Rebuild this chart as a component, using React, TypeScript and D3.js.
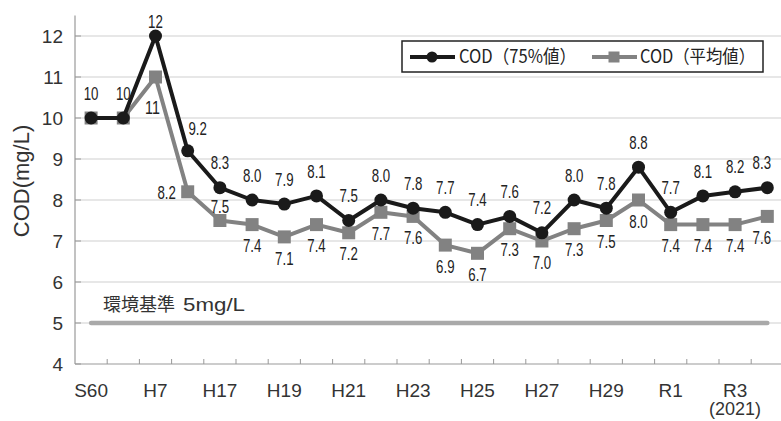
import React, { useEffect, useRef } from 'react';
import * as d3 from 'd3';

// 年度（表示されるのは偶数番目だけ）
const years = ['S60', 'H2', 'H7', 'H12', 'H17', 'H18', 'H19', 'H20', 'H21', 'H22', 'H23',
  'H24', 'H25', 'H26', 'H27', 'H28', 'H29', 'H30', 'R1', 'R2', 'R3', 'R4'];
const cod75 = [10, 10, 12, 9.2, 8.3, 8.0, 7.9, 8.1, 7.5, 8.0, 7.8, 7.7, 7.4, 7.6, 7.2, 8.0, 7.8, 8.8, 7.7, 8.1, 8.2, 8.3];
const codAvg = [10, 10, 11, 8.2, 7.5, 7.4, 7.1, 7.4, 7.2, 7.7, 7.6, 6.9, 6.7, 7.3, 7.0, 7.3, 7.5, 8.0, 7.4, 7.4, 7.4, 7.6];
const standard = 5;
const yTicks = [4, 5, 6, 7, 8, 9, 10, 11, 12];
// label placement: a=above, ar=above right, b=below, bl=below left, l=left, m=just above, n=none
const place75 = ['a', 'a', 'a', 'ar', 'a', 'a', 'a', 'a', 'a', 'a', 'a', 'a', 'a', 'a', 'a', 'a', 'a', 'a', 'a', 'a', 'a', 'a'];
const placeAvg = ['n', 'n', 'bl', 'l', 'm', 'b', 'b', 'b', 'b', 'b', 'b', 'b', 'b', 'b', 'b', 'b', 'b', 'b', 'b', 'b', 'b', 'b'];

const W = 781;
const H = 421;
const NUM = "'Liberation Sans', Arial, sans-serif";
const JP = "'Noto Sans CJK JP', sans-serif";

const offsets: Record<string, [number, number]> = {
  a: [0, -25], ar: [10, -22], b: [0, 21], bl: [-3, 30], l: [-21, 1], m: [0, -14],
};

// narrow look for data labels: squeeze glyphs
const labelWidth = (s: string) => s.split('').reduce((w, c) => w + (c === '.' ? 3.6 : 7.4), 0);

const App: React.FC = () => {
  const svgRef = useRef<SVGSVGElement>(null);

  useEffect(() => {
    if (!svgRef.current) return;
    const svg = d3.select(svgRef.current);
    svg.selectAll('*').remove();

    const left = 75;
    const bottom = 364;
    const band = 32.2;

    const x = d3.scaleBand<number>()
      .domain(d3.range(years.length))
      .range([left, left + band * years.length])
      .padding(0);
    const cx = (i: number) => (x(i) as number) + x.bandwidth() / 2;
    const y = d3.scaleLinear().domain([4, 12.5]).range([bottom, 15.5]);

    // grid
    svg.append('g').selectAll('line')
      .data(yTicks.filter(t => t > 4))
      .enter().append('line')
      .attr('x1', left).attr('x2', W)
      .attr('y1', d => y(d)).attr('y2', d => y(d))
      .attr('stroke', '#cfcfcf').attr('stroke-width', 1);

    // axes
    svg.append('line').attr('x1', left).attr('x2', left).attr('y1', y(12.5)).attr('y2', bottom)
      .attr('stroke', '#999').attr('stroke-width', 1.2);
    svg.append('line').attr('x1', left).attr('x2', W).attr('y1', bottom).attr('y2', bottom)
      .attr('stroke', '#999').attr('stroke-width', 1.2);

    svg.append('g').selectAll('line')
      .data(yTicks)
      .enter().append('line')
      .attr('x1', left).attr('x2', left + 6)
      .attr('y1', d => y(d)).attr('y2', d => y(d))
      .attr('stroke', '#999');

    svg.append('g').selectAll('text')
      .data(yTicks)
      .enter().append('text')
      .attr('x', 63).attr('y', d => y(d)).attr('dy', '0.35em')
      .attr('text-anchor', 'end')
      .style('font-family', NUM).style('font-size', '19px').style('fill', '#333')
      .text(d => d);

    svg.append('g').selectAll('line')
      .data(d3.range(1, years.length + 1))
      .enter().append('line')
      .attr('x1', d => left + d * x.bandwidth()).attr('x2', d => left + d * x.bandwidth())
      .attr('y1', bottom).attr('y2', bottom - 5)
      .attr('stroke', '#999');

    svg.append('g').selectAll('text')
      .data(d3.range(0, years.length, 2))
      .enter().append('text')
      .attr('x', d => cx(d)).attr('y', 397)
      .attr('text-anchor', 'middle')
      .style('font-family', NUM).style('font-size', '19px').style('fill', '#333')
      .text(d => years[d]);

    svg.append('text')
      .attr('x', cx(20)).attr('y', 415)
      .attr('text-anchor', 'middle')
      .style('font-family', NUM).style('font-size', '18px').style('fill', '#333')
      .text('(2021)');

    svg.append('text')
      .attr('transform', `translate(21,181) rotate(-90)`)
      .attr('dy', '0.35em')
      .attr('text-anchor', 'middle')
      .style('font-family', NUM).style('font-size', '22px').style('fill', '#333')
      .text('COD(mg/L)');

    // environmental standard
    svg.append('line')
      .attr('x1', cx(0)).attr('x2', cx(years.length - 1))
      .attr('y1', y(standard)).attr('y2', y(standard))
      .attr('stroke', '#a9a9a9').attr('stroke-width', 4.5).attr('stroke-linecap', 'round');
    svg.append('text')
      .attr('x', 103).attr('y', 311)
      .style('font-family', JP).style('font-size', '18px').style('fill', '#333')
      .text('環境基準');
    svg.append('text')
      .attr('x', 183).attr('y', 311)
      .attr('textLength', 62).attr('lengthAdjust', 'spacingAndGlyphs')
      .style('font-family', NUM).style('font-size', '18px').style('fill', '#333')
      .text('5mg/L');

    const line = d3.line<number>().x((_, i) => cx(i)).y(d => y(d));

    // average series
    svg.append('path').datum(codAvg)
      .attr('d', line).attr('fill', 'none')
      .attr('stroke', '#828282').attr('stroke-width', 4).attr('stroke-linejoin', 'round');
    svg.append('g').selectAll('rect')
      .data(codAvg)
      .enter().append('rect')
      .attr('x', (_, i) => cx(i) - 6.5).attr('y', d => y(d) - 6.5)
      .attr('width', 13).attr('height', 13)
      .attr('fill', '#828282');

    // 75% series
    svg.append('path').datum(cod75)
      .attr('d', line).attr('fill', 'none')
      .attr('stroke', '#1a1a1a').attr('stroke-width', 4).attr('stroke-linejoin', 'round');
    svg.append('g').selectAll('circle')
      .data(cod75)
      .enter().append('circle')
      .attr('cx', (_, i) => cx(i)).attr('cy', d => y(d))
      .attr('r', 6.5).attr('fill', '#1a1a1a');

    // data labels (kept inside the right edge)
    const fmt = (v: number) => (v >= 10 ? d3.format('d')(v) : d3.format('.1f')(v));
    const labels = (vals: number[], places: string[]) => {
      svg.append('g').selectAll('text')
        .data(vals.map((v, i) => ({ v, i, p: places[i] })).filter(d => d.p !== 'n'))
        .enter().append('text')
        .attr('x', d => {
          const w = labelWidth(fmt(d.v));
          return Math.min(W - 10 - w, cx(d.i) + offsets[d.p][0] - w / 2);
        })
        .attr('y', d => Math.max(21, y(d.v) + offsets[d.p][1]))
        .attr('dy', '0.36em')
        .attr('textLength', d => labelWidth(fmt(d.v)))
        .attr('lengthAdjust', 'spacingAndGlyphs')
        .style('font-family', NUM).style('font-size', '18.5px').style('fill', '#222')
        .text(d => fmt(d.v));
    };
    labels(cod75, place75);
    labels(codAvg, placeAvg);

    // legend
    const lg = svg.append('g');
    lg.append('rect').attr('x', 402).attr('y', 41).attr('width', 361).attr('height', 31)
      .attr('fill', '#fff').attr('stroke', '#222').attr('stroke-width', 1.5);
    lg.append('line').attr('x1', 410).attr('x2', 455).attr('y1', 57).attr('y2', 57)
      .attr('stroke', '#1a1a1a').attr('stroke-width', 4);
    lg.append('circle').attr('cx', 432).attr('cy', 57).attr('r', 5.5).attr('fill', '#1a1a1a');
    lg.append('text').attr('x', 459).attr('y', 57).attr('dy', '0.36em')
      .attr('textLength', 117).attr('lengthAdjust', 'spacingAndGlyphs')
      .style('font-family', JP).style('font-size', '18px').style('fill', '#222')
      .text('COD（75%値）');
    lg.append('line').attr('x1', 592).attr('x2', 637).attr('y1', 57).attr('y2', 57)
      .attr('stroke', '#828282').attr('stroke-width', 4);
    lg.append('rect').attr('x', 608.5).attr('y', 51.5).attr('width', 11).attr('height', 11).attr('fill', '#828282');
    lg.append('text').attr('x', 640).attr('y', 57).attr('dy', '0.36em')
      .attr('textLength', 115).attr('lengthAdjust', 'spacingAndGlyphs')
      .style('font-family', JP).style('font-size', '18px').style('fill', '#222')
      .text('COD（平均値）');
  }, []);

  return (
    <div>
      <style>{`body { margin: 0; }`}</style>
      <svg ref={svgRef} width={W} height={H} style={{ display: 'block', background: '#fff' }} />
    </div>
  );
};

export default App;
